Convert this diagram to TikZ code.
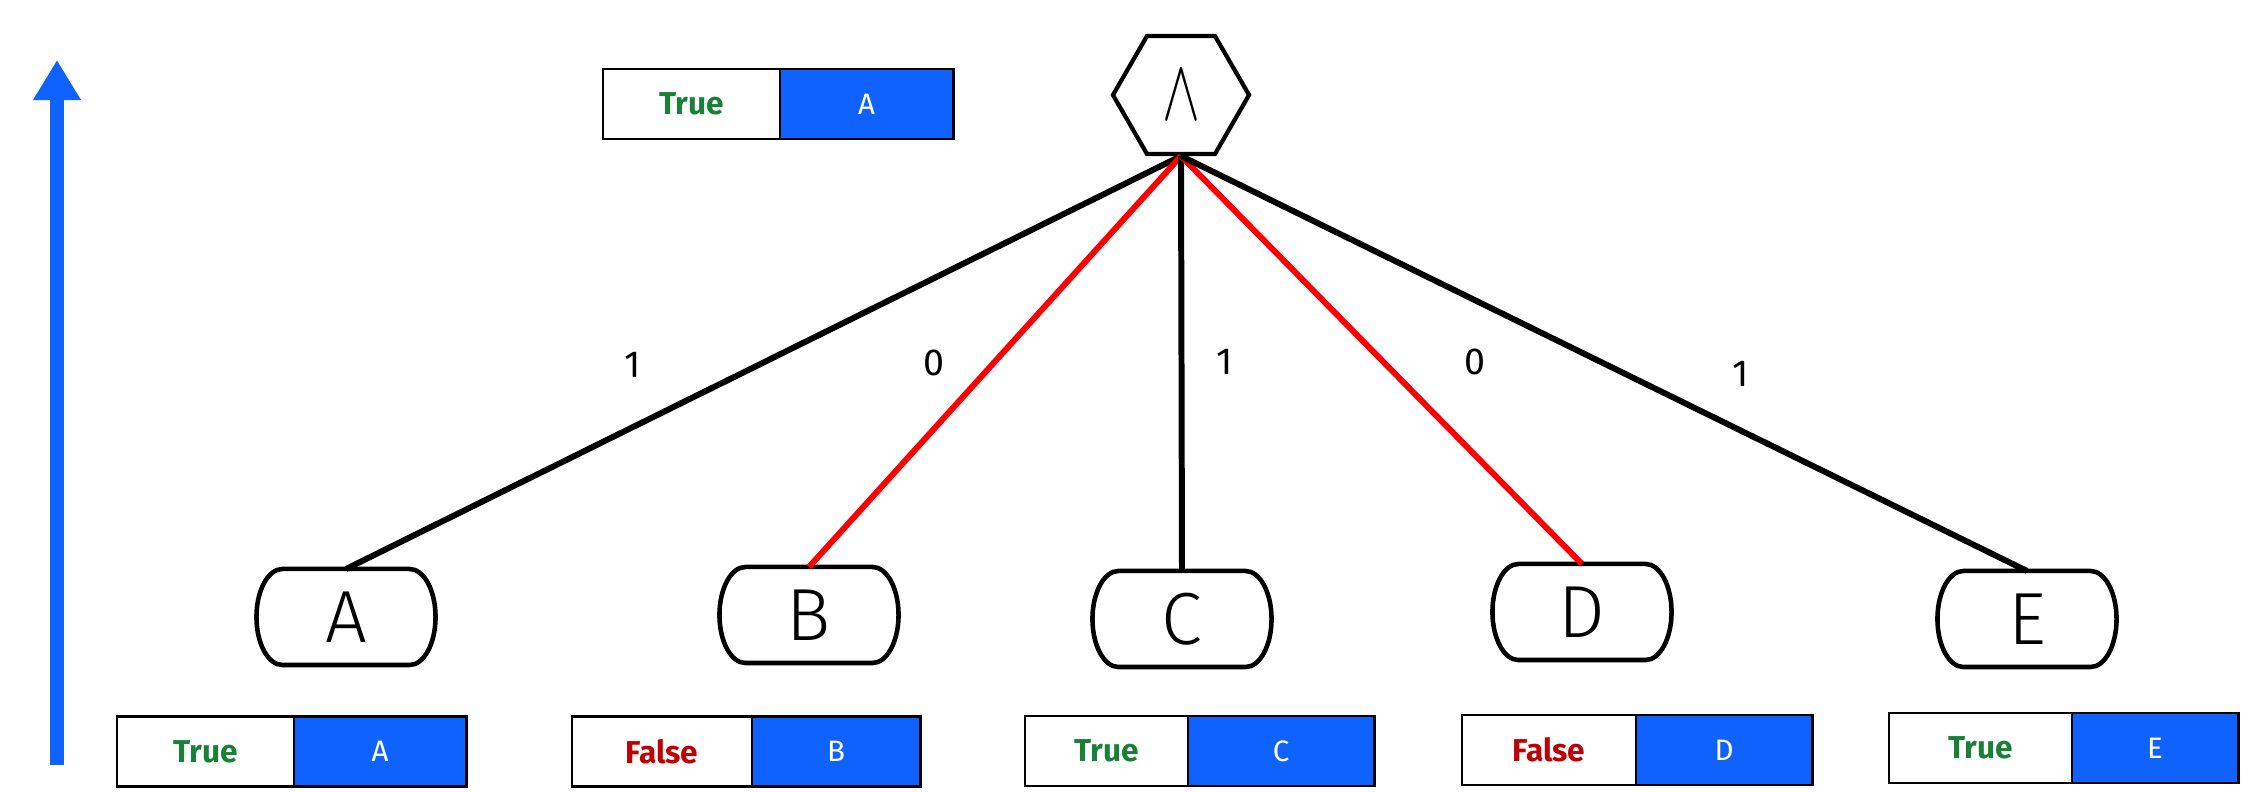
\documentclass[tikz,border=0pt]{standalone}
\usepackage{fontspec}
\setmainfont{Fira Sans}
\newfontfamily\lightfont{Fira Sans Light}
\usetikzlibrary{positioning,shapes.geometric,arrows.meta}
\definecolor{boxblue}{HTML}{0F62FE}
\definecolor{truegreen}{HTML}{198038}
\definecolor{falsered}{HTML}{C00000}
\newcommand{\valT}{\textcolor{truegreen}{\bfseries True}}
\newcommand{\valF}{\textcolor{falsered}{\bfseries False}}
% barrel outline round a leaf node
\newcommand{\leafline}[1]{%
  \draw[line width=1.3pt] ([xshift=0.26cm]#1.north west) -- ([xshift=-0.26cm]#1.north east)
    .. controls ([xshift=-0.116cm]#1.north east) and ([yshift=0.265cm]#1.east) .. (#1.east)
    .. controls ([yshift=-0.265cm]#1.east) and ([xshift=-0.116cm]#1.south east) .. ([xshift=-0.26cm]#1.south east)
    -- ([xshift=0.26cm]#1.south west)
    .. controls ([xshift=0.116cm]#1.south west) and ([yshift=-0.265cm]#1.west) .. (#1.west)
    .. controls ([yshift=0.265cm]#1.west) and ([xshift=0.116cm]#1.north west) .. ([xshift=0.26cm]#1.north west)
    -- cycle;}

\begin{document}
\begin{tikzpicture}[x=0.01cm,y=-0.01cm,
  leaf/.style={rectangle,outer sep=0pt,minimum width=1.79cm,minimum height=0.96cm,
    font=\lightfont\fontsize{21}{24}\selectfont},
  gate/.style={regular polygon,regular polygon sides=6,draw,line width=1.2pt,
    minimum size=1.36cm,inner sep=0pt},
  valbox/.style={rectangle,draw,line width=0.8pt,fill=white,minimum height=0.7cm,
    outer sep=0pt,font=\fontsize{9}{10}\selectfont},
  namebox/.style={valbox,fill=boxblue,text=white,font=\fontsize{8.4}{9}\selectfont},
  wire/.style={line width=1.7pt},
  weight/.style={font=\fontsize{10.7}{12}\selectfont}]
\useasboundingbox (0,0) rectangle (2241,792);
% upward arrow
\coordinate (up0) at (57,765);
\coordinate (up1) at (57,60);
\draw[boxblue,line width=4pt,-{Triangle[width=0.45cm,length=0.4cm]}] (up0) -- (up1);
% gate and leaves
\node (and) [gate] at (1181,95) {\fontsize{30}{32}\selectfont\scalebox{0.65}[1]{$\wedge$}};
\node (a) [leaf] at (346,617) {A};
\node (b) [leaf] at (809,615) {B};
\node (c) [leaf] at (1182,619) {C};
\node (d) [leaf] at (1582,612) {D};
\node (e) [leaf] at (2027,619) {E};
\leafline{a}
\leafline{b}
\leafline{c}
\leafline{d}
\leafline{e}
\draw[wire] (and.south) -- (a.north);
\draw[wire,red] (and.south) -- (b.north);
\draw[wire] (and.south) -- (c.north);
\draw[wire,red] (and.south) -- (d.north);
\draw[wire] (and.south) -- (e.north);
\node (w1) [weight] at (633,365) {1};
\node (w2) [weight] at (934,363) {0};
\node (w3) [weight] at (1225,362) {1};
\node (w4) [weight] at (1475,362) {0};
\node (w5) [weight] at (1741,374) {1};
% value boxes
\node (tt) [valbox,minimum width=1.77cm] at (691.5,104) {\valT};
\node (nt) [namebox,minimum width=1.73cm,right=0pt of tt] {A};
\node (ta) [valbox,minimum width=1.77cm] at (205.5,751.5) {\valT};
\node (na) [namebox,minimum width=1.72cm,right=0pt of ta] {A};
\node (tb) [valbox,minimum width=1.80cm] at (662,751.5) {\valF};
\node (nb) [namebox,minimum width=1.68cm,right=0pt of tb] {B};
\node (tc) [valbox,minimum width=1.63cm] at (1106.5,751) {\valT};
\node (nc) [namebox,minimum width=1.86cm,right=0pt of tc] {C};
\node (td) [valbox,minimum width=1.74cm] at (1549,750) {\valF};
\node (nd) [namebox,minimum width=1.76cm,right=0pt of td] {D};
\node (te) [valbox,minimum width=1.83cm] at (1980.5,748) {\valT};
\node (ne) [namebox,minimum width=1.66cm,right=0pt of te] {E};
\end{tikzpicture}
\end{document}
